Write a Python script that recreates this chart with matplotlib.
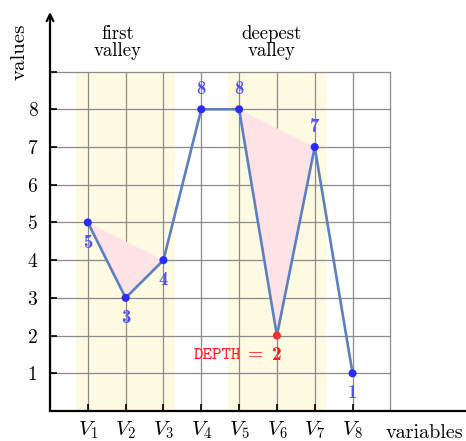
import numpy as np
import matplotlib.pyplot as plt
from matplotlib.patches import Polygon

plt.rcParams['mathtext.fontset'] = 'cm'
plt.rcParams['font.family'] = ['cmr10', 'DejaVu Serif']

x = np.arange(1, 9)
values = [5, 3, 4, 8, 8, 2, 7, 1]
xlabels = [r"$V_{%d}$" % i for i in x]
yticks = [1, 2, 3, 4, 5, 6, 7, 8, 9]
# label offsets: below (-1) or above (+1) point
label_side = [-1, -1, -1, 1, 1, 0, 1, -1]
valleys = [(0.7, 3.3, "first\nvalley", 1.8), (4.7, 7.3, "deepest\nvalley", 5.87)]
deep_idx = 5

fig = plt.figure(figsize=(4.66, 4.41), dpi=100)
ax = fig.add_axes([50/466, 30/441, 416/466, 399/441])
ax.set_xlim(0, 11)
ax.set_ylim(0, 10.58)
for s in ax.spines.values():
    s.set_visible(False)

# grid
for gx in range(0, 10):
    ax.plot([gx, gx], [0, 9], color='#8a8a8a', lw=0.9, zorder=1)
for gy in range(1, 10):
    ax.plot([0, 9], [gy, gy], color='#8a8a8a', lw=0.9, zorder=1)

# valley bands
for x0, x1, txt, tx in valleys:
    ax.axvspan(x0, x1, ymin=0, ymax=9/10.58, color='#fffbe3', zorder=0, lw=0)
    ax.text(tx, 9.76, txt, ha='center', va='center', fontsize=13.5, linespacing=0.95)

# pink triangles
ax.add_patch(Polygon([(1, 5), (2, 3), (3, 4)], closed=True, fc='#ffe3e6', ec='none', zorder=1.5))
ax.add_patch(Polygon([(5, 8), (6, 2), (7, 7)], closed=True, fc='#ffe3e6', ec='none', zorder=1.5))

ax.plot(x, values, color='#5b7fbf', lw=1.9, zorder=3)
cols = ['#2b2bff'] * len(x)
cols[deep_idx] = '#ff2b2b'
ax.scatter(x, values, s=34, c=cols, zorder=4, linewidths=0)

for xi, v, side in zip(x, values, label_side):
    if side == 0:
        continue
    ax.annotate(str(v), (xi, v), xytext=(0, 14.5 * side), textcoords='offset points',
                ha='center', va='center', color='#5050ff', fontsize=13.5, family='cmb10')

# depth label: DEPTH = 2
red = '#ff2020'
ax.text(x[deep_idx] - 0.95, 1.48, "DEPTH", family='cmtt10', color=red, ha='right', va='center', fontsize=13)
ax.text(x[deep_idx] - 0.58, 1.48, "=", color=red, ha='center', va='center', fontsize=14)
ax.text(x[deep_idx], 1.48, str(values[deep_idx]), family='cmb10', color=red, ha='center', va='center', fontsize=14)

# axes with arrows
ax.annotate('', xy=(0, 10.58), xytext=(0, 0),
            arrowprops=dict(arrowstyle='->', lw=1.6, color='black', shrinkA=0, shrinkB=0,
                            mutation_scale=12), annotation_clip=False)
ax.plot([0, 11], [0, 0], color='black', lw=1.6, clip_on=False, zorder=5)

ax.set_xticks(x)
ax.set_xticklabels(xlabels, fontsize=15)
ax.set_yticks(yticks)
ax.set_yticklabels([str(t) if t < 9 else "" for t in yticks], fontsize=14)
ax.tick_params(axis='both', direction='in', length=5, width=1.2, color='black', pad=6)
ax.tick_params(axis='y', pad=9)

fig.text(20/466, 1 - 52/441, "values", rotation=90, ha='center', va='center', fontsize=15)
fig.text(463/466, 1 - 433/441, "variables", ha='right', va='center', fontsize=14.5)

fig.savefig("out.png", dpi=100)
